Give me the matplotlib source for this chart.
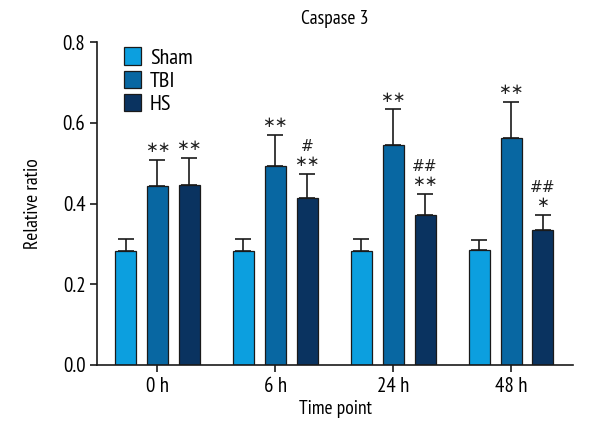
import matplotlib
matplotlib.use("Agg")
import matplotlib.pyplot as plt
import numpy as np

plt.rcParams['font.family'] = ['PT Sans Narrow', 'DejaVu Sans']

categories = ["0 h", "6 h", "24 h", "48 h"]
groups = ["Sham", "TBI", "HS"]
sham = [0.283, 0.283, 0.282, 0.284]
sham_err = [0.028, 0.028, 0.030, 0.026]
tbi = [0.443, 0.494, 0.544, 0.563]
tbi_err = [0.065, 0.075, 0.089, 0.089]
hs = [0.445, 0.414, 0.372, 0.334]
hs_err = [0.067, 0.059, 0.051, 0.037]
tbi_marks = ["∗∗", "∗∗", "∗∗", "∗∗"]
hs_marks = ["∗∗", "#\n∗∗", "##\n∗∗", "##\n∗"]
colors = ["#0C9FDF", "#0867A2", "#0A3360"]

fig = plt.figure(figsize=(6, 4.4), dpi=100)
ax = fig.add_axes([0.162, 0.1705, 0.793, 0.734])

x = np.arange(len(categories))
w = 0.178
off = 0.27
series = [(sham, sham_err), (tbi, tbi_err), (hs, hs_err)]
for i, (vals, errs) in enumerate(series):
    pos = x + (i - 1) * off
    ax.bar(pos, vals, width=w, color=colors[i], edgecolor="#1a1a1a", linewidth=0.9,
           label=groups[i], zorder=2)
    ax.errorbar(pos, vals, yerr=[np.zeros(len(errs)), errs], fmt="none",
                ecolor="#1a1a1a", elinewidth=1.2, capsize=6, capthick=1.2, zorder=1)

for j in range(len(categories)):
    ax.text(x[j], tbi[j] + tbi_err[j] + 0.012, tbi_marks[j], ha="center", va="bottom",
            fontsize=11, color="#222222", linespacing=1.0,
            family=['DejaVu Sans'])
    ax.text(x[j] + off, hs[j] + hs_err[j] + 0.012, hs_marks[j], ha="center", va="bottom",
            fontsize=11, color="#222222", linespacing=1.0,
            family=['DejaVu Sans'])

ax.set_xlim(-0.51, 3.525)
ax.set_ylim(0, 0.8)
ax.set_yticks([0.0, 0.2, 0.4, 0.6, 0.8])
ax.set_yticklabels(["0.0", "0.2", "0.4", "0.6", "0.8"])
ax.set_xticks(x)
ax.set_xticklabels(categories)
ax.spines["top"].set_visible(False)
ax.spines["right"].set_visible(False)
for s in ["left", "bottom"]:
    ax.spines[s].set_linewidth(1.2)
    ax.spines[s].set_color("#1a1a1a")
ax.tick_params(axis="both", labelsize=15, width=1.2, length=5, color="#1a1a1a")
ax.set_ylabel("Relative ratio", fontsize=14, labelpad=15)
ax.set_xlabel("Time point", fontsize=14, labelpad=3)
ax.set_title("Caspase 3", fontsize=14, pad=13)

ax.legend(loc="upper left", bbox_to_anchor=(0.029, 1.025), frameon=False, fontsize=16,
          handlelength=0.75, handleheight=0.85, handletextpad=0.4, labelspacing=0.12,
          borderaxespad=0.2)

fig.savefig("out.png", dpi=100)
